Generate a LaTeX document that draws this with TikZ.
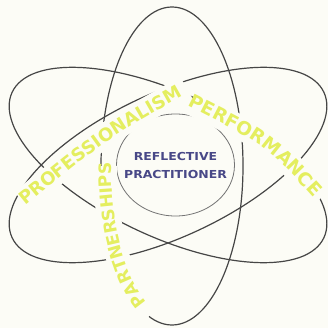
\documentclass[tikz,border=0pt]{standalone}
\usepackage{fontspec}
\setmainfont{DejaVu Sans}
\newfontfamily\ArcFont{DejaVu Sans Bold}
\newfontfamily\CenFont{DejaVu Sans Bold}[FakeStretch=1.13]
\usetikzlibrary{decorations.text,shapes.geometric}
\definecolor{bgc}{RGB}{252,252,246}
\definecolor{orbit}{RGB}{70,70,70}
\definecolor{ringc}{RGB}{115,115,115}
\definecolor{ylw}{RGB}{228,238,95}
\definecolor{navyc}{RGB}{72,72,135}
\tikzset{
  orbitline/.style={draw=orbit, line width=1.2pt},
  ringline/.style={draw=ringc, line width=0.8pt},
  halo/.style={draw=bgc, line width=24pt, line cap=butt},
}
\begin{document}
\begin{tikzpicture}[x=1pt,y=-1pt]
\fill[bgc] (0,0) rectangle (328,328);
\useasboundingbox (0,0) rectangle (328,328);
% orbits
\coordinate (ctr) at (168,165);
\coordinate (vc) at (172,166);
\draw[orbitline, rotate around={-25:(ctr)}] (ctr) ellipse [x radius=172, y radius=72];
\draw[orbitline, rotate around={25:(ctr)}] (ctr) ellipse [x radius=172, y radius=72];
\draw[orbitline] (vc) ellipse [x radius=71, y radius=159];
% inner ring
\node[ringline, ellipse, minimum width=118pt, minimum height=102pt, inner sep=0pt] (ring) at (175.5,165) {};
% halos under the curved words
\draw[halo] (22,201) .. controls (105,133) .. (186,87);
\draw[halo] (191,103) .. controls (270,141) .. (321,198);
\draw[halo] (vc) ++(108:67 and 155) arc[start angle=108, end angle=180, x radius=67, y radius=155];
% curved words
\begin{scope}
\ArcFont\fontsize{18}{18}\selectfont
\path[decorate, decoration={text along path, text color=ylw, text={PROFESSIONALISM}}]
  (25,206) .. controls (108.8,137.9) .. (187.7,93.5) -- ++(26,-13);
\end{scope}
\begin{scope}
\ArcFont\fontsize{18.5}{18.5}\selectfont
\path[decorate, decoration={text along path, text color=ylw, text={PERFORMANCE}}]
  (187.7,105.8) .. controls (267.3,146) .. (316.3,200.7) -- ++(18,18);
\end{scope}
\begin{scope}
\ArcFont\fontsize{17}{17}\selectfont
\path[decorate, decoration={text along path, text color=ylw, text={PARTNERSHIPS}}]
  (vc) ++(114:61 and 149) arc[start angle=114, end angle=200, x radius=61, y radius=149];
\end{scope}
% centre words
\node[text=navyc, align=center, font=\CenFont\fontsize{11}{18}\selectfont] (centre) at (ring.center) {REFLECTIVE\\PRACTITIONER};
\end{tikzpicture}
\end{document}
